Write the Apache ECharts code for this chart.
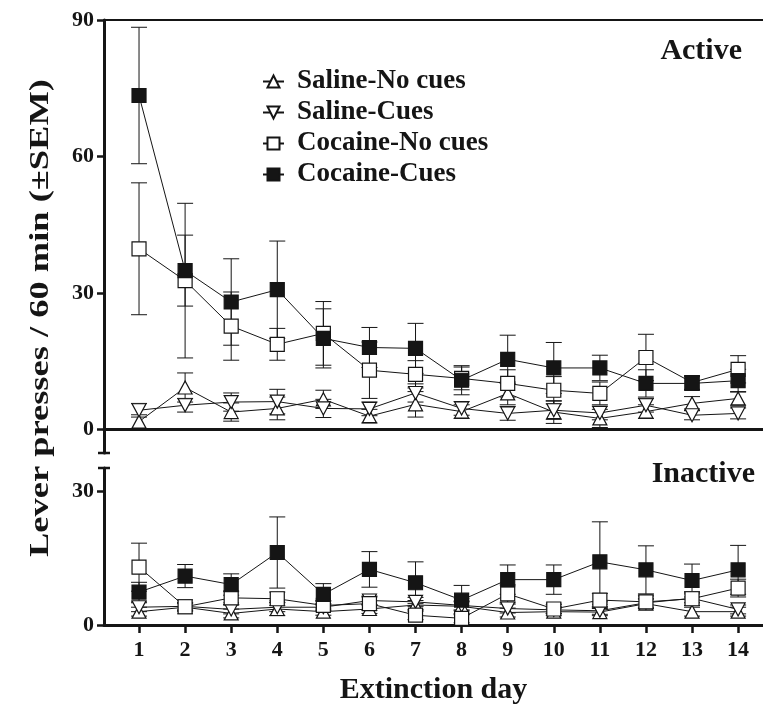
<!DOCTYPE html>
<html>
<head>
<meta charset="utf-8">
<script src="https://cdn.jsdelivr.net/npm/echarts@6/dist/echarts.min.js"></script>
<style>html,body{margin:0;padding:0;background:#fff;}#c{width:763px;height:706px;}</style>
</head>
<body>
<div id="c"></div>
<script>
const days = [1,2,3,4,5,6,7,8,9,10,11,12,13,14];
const seriesNames = ['Saline-No cues','Saline-Cues','Cocaine-No cues','Cocaine-Cues'];
const activeTicks = [0,30,60,90];
const inactiveTicks = [0,30];

// Active lever (means, SEM)
const activeSalineNoCues    = [1.7, 9.2, 3.8, 4.6, 6.6, 2.9, 5.5, 3.9, 7.9, 3.8, 2.4, 3.9, 5.7, 6.8];
const activeSalineNoCuesSem = [1.5, 3.2, 2.0, 2.5, 2.0, 1.5, 2.8, 1.5, 2.5, 2.5, 2.0, 1.5, 1.5, 1.5];
const activeSalineCues      = [4.2, 5.3, 6.0, 6.1, 4.6, 4.5, 8.0, 4.6, 3.5, 4.2, 3.6, 5.3, 3.1, 3.5];
const activeSalineCuesSem   = [1.5, 1.5, 2.0, 2.7, 2.0, 1.5, 2.0, 1.5, 1.5, 2.0, 1.5, 1.5, 1.0, 1.2];
const activeCocaineNoCues   = [39.7, 32.7, 22.7, 18.7, 21.1, 13.0, 12.1, 11.2, 10.1, 8.6, 7.9, 15.8, 10.3, 13.2];
const activeCocaineNoCuesSem= [14.5, 17.0, 7.5, 3.5, 7.0, 6.2, 3.0, 2.5, 3.0, 3.0, 2.5, 5.1, 1.5, 3.0];
const activeCocaineCues     = [73.4, 34.9, 28.0, 30.7, 20.0, 18.0, 17.8, 10.8, 15.4, 13.5, 13.5, 10.1, 10.1, 10.7];
const activeCocaineCuesSem  = [15.0, 7.8, 9.5, 10.7, 6.5, 4.4, 5.5, 3.2, 5.3, 5.6, 2.8, 3.0, 1.5, 2.5];

// Inactive lever (means, SEM)
const inactiveSalineNoCues    = [3.0, 4.0, 2.6, 3.6, 3.0, 3.6, 4.5, 4.2, 2.8, 3.0, 2.9, 4.8, 3.0, 3.0];
const inactiveSalineNoCuesSem = [1.0, 0.8, 1.0, 1.5, 0.8, 1.0, 1.0, 1.0, 1.0, 0.8, 0.8, 1.0, 1.0, 1.0];
const inactiveSalineCues      = [4.0, 4.2, 3.5, 4.0, 4.0, 5.5, 5.2, 4.4, 3.7, 3.4, 3.2, 5.0, 6.0, 3.5];
const inactiveSalineCuesSem   = [1.0, 0.8, 1.0, 1.0, 0.8, 1.0, 1.0, 1.0, 1.0, 0.8, 0.8, 1.0, 1.0, 1.0];
const inactiveCocaineNoCues   = [13.0, 4.1, 6.1, 5.9, 4.4, 4.8, 2.2, 1.5, 7.0, 3.6, 5.6, 5.2, 5.9, 8.3];
const inactiveCocaineNoCuesSem= [5.4, 1.0, 1.5, 1.5, 1.0, 1.5, 1.0, 1.0, 2.0, 1.0, 1.5, 1.5, 1.5, 2.0];
const inactiveCocaineCues     = [7.4, 11.0, 9.1, 16.3, 6.9, 12.5, 9.5, 5.6, 10.2, 10.2, 14.2, 12.4, 10.0, 12.4];
const inactiveCocaineCuesSem  = [2.2, 2.6, 2.4, 8.0, 2.4, 4.0, 4.7, 3.3, 3.3, 3.3, 9.0, 5.4, 3.7, 5.5];

const INK = '#151515';
const FONT = '"Liberation Serif", "DejaVu Serif", serif';
const downTri = 'path://M0,0 L20,0 L10,18 Z';
const styles = [
  {symbol: 'triangle', symbolSize: [14, 13], fill: '#fff'},
  {symbol: downTri, symbolSize: [14, 13], fill: '#fff'},
  {symbol: 'rect', symbolSize: 14, fill: '#fff'},
  {symbol: 'rect', symbolSize: 14, fill: INK}
];

const panels = [
  {means: [activeSalineNoCues, activeSalineCues, activeCocaineNoCues, activeCocaineCues],
   sems: [activeSalineNoCuesSem, activeSalineCuesSem, activeCocaineNoCuesSem, activeCocaineCuesSem]},
  {means: [inactiveSalineNoCues, inactiveSalineCues, inactiveCocaineNoCues, inactiveCocaineCues],
   sems: [inactiveSalineNoCuesSem, inactiveSalineCuesSem, inactiveCocaineNoCuesSem, inactiveCocaineCuesSem]}
];

function errRender(params, api) {
  const x = api.value(0), m = api.value(1), s = api.value(2);
  const top = api.coord([x, m + s]);
  const bot = api.coord([x, m - s]);
  const hw = 8;
  const st = {stroke: INK, lineWidth: 1};
  return {type: 'group', children: [
    {type: 'line', shape: {x1: top[0], y1: top[1], x2: bot[0], y2: bot[1]}, style: st},
    {type: 'line', shape: {x1: top[0]-hw, y1: top[1], x2: top[0]+hw, y2: top[1]}, style: st},
    {type: 'line', shape: {x1: bot[0]-hw, y1: bot[1], x2: bot[0]+hw, y2: bot[1]}, style: st}
  ]};
}

const lineSeries = [];
const errSeries = [];
panels.forEach((p, pi) => {
  seriesNames.forEach((name, si) => {
    lineSeries.push({
      type: 'line', name: name, xAxisIndex: pi, yAxisIndex: pi, z: 3,
      symbol: styles[si].symbol, symbolSize: styles[si].symbolSize,
      showAllSymbol: true,
      lineStyle: {color: INK, width: 1},
      itemStyle: {color: styles[si].fill, borderColor: INK, borderWidth: 1.2, opacity: 1},
      emphasis: {disabled: true},
      data: days.map((d, i) => [d, p.means[si][i]])
    });
    errSeries.push({
      type: 'custom', name: name + ' SEM', xAxisIndex: pi, yAxisIndex: pi, z: 1,
      renderItem: errRender, silent: true,
      data: days.map((d, i) => [d, p.means[si][i], p.sems[si][i]])
    });
  });
});

const xMin = 0.24, xMax = 14.54;
const labelStyle = {color: INK, fontFamily: FONT, fontWeight: 'bold', fontSize: 22};

const option = {
  animation: false,
  backgroundColor: '#fff',
  grid: [
    {left: 104, right: 0, top: 20, height: 433},
    {left: 104, right: 0, top: 468, height: 158.7}
  ],
  xAxis: [
    {gridIndex: 0, type: 'value', min: xMin, max: xMax, position: 'bottom',
     axisLine: {onZero: true, lineStyle: {color: INK, width: 3}},
     axisTick: {show: false}, axisLabel: {show: false}, splitLine: {show: false}},
    {gridIndex: 1, type: 'value', min: xMin, max: xMax, position: 'bottom',
     name: 'Extinction day', nameLocation: 'middle', nameGap: 50,
     nameTextStyle: {color: INK, fontFamily: FONT, fontWeight: 'bold', fontSize: 30},
     axisLine: {onZero: true, lineStyle: {color: INK, width: 3}},
     axisTick: {show: true, customValues: days, inside: false, length: 8, lineStyle: {color: INK, width: 2.5}},
     axisLabel: Object.assign({customValues: days, margin: 14}, labelStyle),
     splitLine: {show: false}},
    {gridIndex: 0, type: 'value', min: xMin, max: xMax, position: 'top',
     axisLine: {onZero: false, lineStyle: {color: INK, width: 2}},
     axisTick: {show: false}, axisLabel: {show: false}, splitLine: {show: false}}
  ],
  yAxis: [
    {gridIndex: 0, type: 'value', min: -5.2, max: 90,
     axisLine: {onZero: false, lineStyle: {color: INK, width: 3}, symbol: ['rect', 'none'], symbolSize: [12, 2.5]},
     axisTick: {customValues: activeTicks, length: 7, lineStyle: {color: INK, width: 2.5}},
     axisLabel: Object.assign({customValues: activeTicks, margin: 10}, labelStyle),
     splitLine: {show: false}},
    {gridIndex: 1, type: 'value', min: 0, max: 35.3,
     axisLine: {onZero: false, lineStyle: {color: INK, width: 3}, symbol: ['none', 'rect'], symbolSize: [12, 2.5]},
     axisTick: {customValues: inactiveTicks, length: 7, lineStyle: {color: INK, width: 2.5}},
     axisLabel: Object.assign({customValues: inactiveTicks, margin: 10}, labelStyle),
     splitLine: {show: false}}
  ],
  legend: {
    data: seriesNames.map(n => ({name: n})),
    orient: 'vertical', left: 257, top: 63,
    itemWidth: 21, itemHeight: 15, itemGap: 4,
    selectedMode: false,
    textStyle: {color: INK, fontFamily: FONT, fontWeight: 'bold', fontSize: 27, lineHeight: 25, padding: [0,0,0,8]}
  },
  graphic: [
    {type: 'text', right: 21, top: 36,
     style: {text: 'Active', fill: INK, font: 'bold 30px ' + FONT}},
    {type: 'text', right: 8, top: 459,
     style: {text: 'Inactive', fill: INK, font: 'bold 30px ' + FONT}},
    {type: 'text', x: 41, y: 318, rotation: Math.PI / 2, scaleX: 1.35, scaleY: 1,
     style: {text: 'Lever presses / 60 min (\u00b1SEM)', fill: INK, font: 'bold 27px ' + FONT,
             align: 'center', verticalAlign: 'middle'}}
  ],
  series: lineSeries.concat(errSeries)
};

const chart = echarts.init(document.getElementById('c'), null, {renderer: 'canvas'});
chart.setOption(option);
</script>
</body>
</html>
